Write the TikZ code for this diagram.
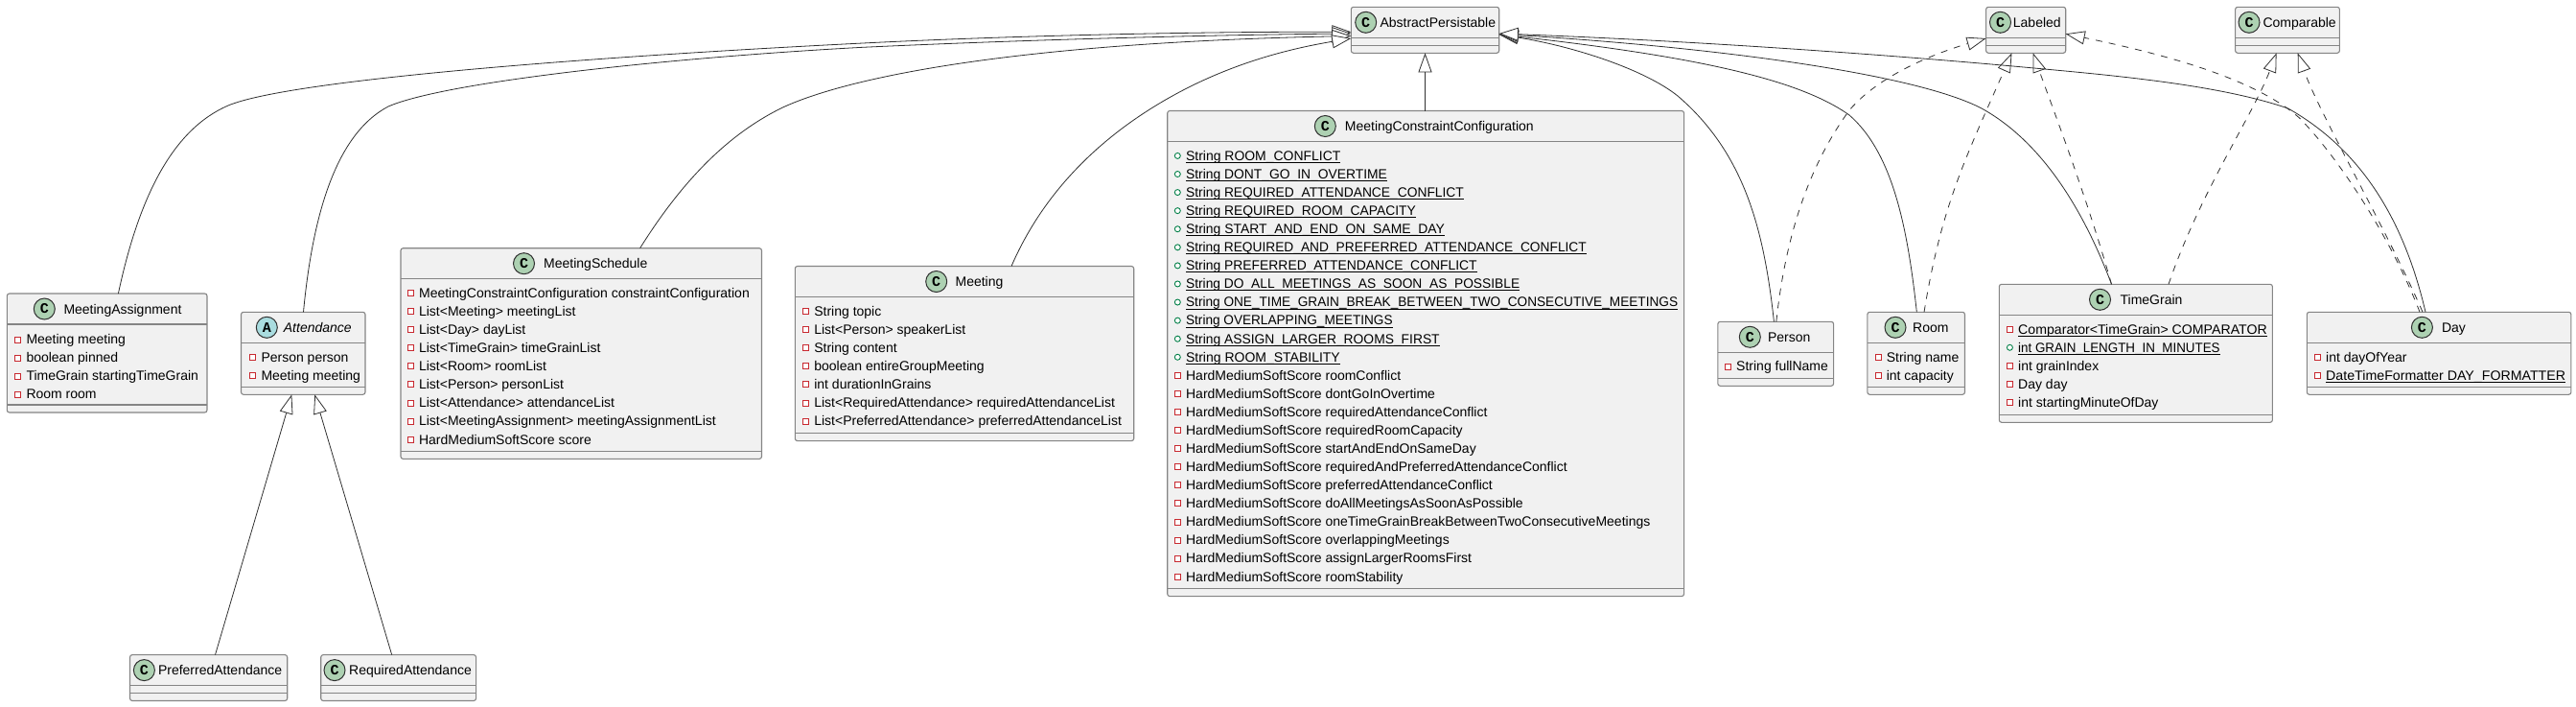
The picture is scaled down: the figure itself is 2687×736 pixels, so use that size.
\documentclass[tikz,border=0pt]{standalone}
\usepackage{fontspec}
\usepackage{graphicx}
\setmainfont{Liberation Sans}
\newfontfamily\iconfont{Liberation Mono}
\usetikzlibrary{arrows.meta}
\definecolor{boxfill}{HTML}{F1F1F1}
\definecolor{boxline}{HTML}{858585}
\definecolor{edgeline}{HTML}{303030}
\definecolor{classicon}{HTML}{ADD1B2}
\definecolor{abstracticon}{HTML}{A9DCDF}
\definecolor{privred}{HTML}{C82930}
\definecolor{pubgreen}{HTML}{038048}
\tikzset{
  classbox/.style={draw=boxline,fill=boxfill,line width=1.1pt,rounded corners=2.5pt,inner sep=0pt,outer sep=0pt},
  sepline/.style={draw=boxline,line width=1.1pt},
  iconcircle/.style={circle,draw=edgeline,line width=1pt,minimum size=22pt,inner sep=0pt,font=\iconfont\bfseries\fontsize{15}{15}\selectfont},
  labeltext/.style={anchor=base west,inner sep=0pt,font=\fontsize{14}{16}\selectfont,text=black},
  ext/.style={draw=edgeline,line width=.8pt,-{Triangle[length=20pt,width=14pt,fill=white,line width=.8pt]}},
  impl/.style={ext,dash pattern=on 7pt off 7pt},
}
\def\umlicon{C}\def\umlfill{classicon}
% name x0 y0 x1 y1 headerline attrline iconx textx
\newcommand{\umlbox}[9]{%
  \pgfmathsetmacro\bw{#4-#2}\pgfmathsetmacro\bh{#5-#3}%
  \pgfmathsetmacro\bx{(#2+#4)/2}\pgfmathsetmacro\by{(#3+#5)/2}%
  \node[classbox,minimum width=\bw pt,minimum height=\bh pt] (#1) at (\bx,\by) {};
  \draw[sepline] (#2,#6) -- (#4,#6);
  \draw[sepline] (#2,#7) -- (#4,#7);
  \pgfmathsetmacro\cy{#3+16}%
  \node[iconcircle,fill=\umlfill] (#1c) at (#8,\cy) {\umlicon};
  \pgfmathsetmacro\ty{#3+21}%
  \node[labeltext] (#1t) at (#9,\ty) {\umlname};
}
\newcommand{\iconp}[2]{\draw[privred,fill=white,line width=.9pt] ({#1-3},{#2-3}) rectangle ({#1+3},{#2+3});}
\newcommand{\icono}[2]{\draw[pubgreen,fill=white,line width=.9pt] (#1,#2) circle (3pt);}
% name textx firsty step list
\newcommand{\umlrows}[5]{%
  \foreach \k/\t [count=\i] in {#5}{%
    \pgfmathsetmacro\ry{#3+(\i-1)*#4}%
    \pgfmathsetmacro\ix{#2-8.6}%
    \csname icon\k\endcsname{\ix}{\ry}%
    \pgfmathsetmacro\rb{\ry+4.8}%
    \node[labeltext] (#1r\i) at (#2,\rb) {\t};
  }%
}
\newcommand{\ulw}[2]{\rlap{\rule[-2.7pt]{#1pt}{1pt}}\resizebox{#1pt}{\height}{#2}}
\begin{document}
\begin{tikzpicture}[x=1pt,y=-1pt]
\useasboundingbox (0,0) rectangle (2687,736);
\def\umlname{MeetingAssignment}\umlbox{ma}{7.3}{306}{216}{430}{338}{422}{46.3}{66.3}
\umlrows{ma}{27.3}{354}{19}{p/Meeting meeting,p/boolean pinned,p/TimeGrain startingTimeGrain,p/Room room}
\def\umlicon{A}\def\umlfill{abstracticon}
\def\umlname{\itshape Attendance}\umlbox{at}{251.5}{325.3}{381}{411.3}{357.3}{403.3}{278.3}{295.7}
\def\umlicon{C}\def\umlfill{classicon}
\umlrows{at}{272.3}{372.7}{19}{p/Person person,p/Meeting meeting}
\def\umlname{MeetingSchedule}\umlbox{ms}{418}{258.7}{794.5}{478.4}{290.6}{470.4}{546.5}{567}
\umlrows{ms}{436.9}{305.4}{19.1}{p/MeetingConstraintConfiguration constraintConfiguration,p/List<Meeting> meetingList,p/List<Day> dayList,p/List<TimeGrain> timeGrainList,p/List<Room> roomList,p/List<Person> personList,p/List<Attendance> attendanceList,p/List<MeetingAssignment> meetingAssignmentList,p/HardMediumSoftScore score}
\def\umlname{Meeting}\umlbox{me}{829.3}{277.5}{1182.7}{459.6}{309.4}{451.4}{976.7}{996.4}
\umlrows{me}{849.1}{324.5}{19.1}{p/String topic,p/List<Person> speakerList,p/String content,p/boolean entireGroupMeeting,p/int durationInGrains,p/List<RequiredAttendance> requiredAttendanceList,p/List<PreferredAttendance> preferredAttendanceList}
\def\umlname{MeetingConstraintConfiguration}\umlbox{mc}{1217.7}{115.5}{1756.6}{621.6}{147.3}{613.5}{1382.3}{1402.7}
\umlrows{mc}{1236.9}{162.4}{19.08}{o/\ulw{161.3}{String ROOM\_CONFLICT},o/\ulw{209.8}{String DONT\_GO\_IN\_OVERTIME},o/\ulw{289.8}{String REQUIRED\_ATTENDANCE\_CONFLICT},o/\ulw{239.8}{String REQUIRED\_ROOM\_CAPACITY},o/\ulw{269.8}{String START\_AND\_END\_ON\_SAME\_DAY},o/\ulw{417.7}{String REQUIRED\_AND\_PREFERRED\_ATTENDANCE\_CONFLICT},o/\ulw{303.5}{String PREFERRED\_ATTENDANCE\_CONFLICT},o/\ulw{348.1}{String DO\_ALL\_MEETINGS\_AS\_SOON\_AS\_POSSIBLE},o/\ulw{513}{String ONE\_TIME\_GRAIN\_BREAK\_BETWEEN\_TWO\_CONSECUTIVE\_MEETINGS},o/\ulw{215.5}{String OVERLAPPING\_MEETINGS},o/\ulw{264.6}{String ASSIGN\_LARGER\_ROOMS\_FIRST},o/\ulw{160.7}{String ROOM\_STABILITY},p/HardMediumSoftScore roomConflict,p/HardMediumSoftScore dontGoInOvertime,p/HardMediumSoftScore requiredAttendanceConflict,p/HardMediumSoftScore requiredRoomCapacity,p/HardMediumSoftScore startAndEndOnSameDay,p/HardMediumSoftScore requiredAndPreferredAttendanceConflict,p/HardMediumSoftScore preferredAttendanceConflict,p/HardMediumSoftScore doAllMeetingsAsSoonAsPossible,p/HardMediumSoftScore oneTimeGrainBreakBetweenTwoConsecutiveMeetings,p/HardMediumSoftScore overlappingMeetings,p/HardMediumSoftScore assignLargerRoomsFirst,p/HardMediumSoftScore roomStability}
\def\umlname{AbstractPersistable}\umlbox{ap}{1409.3}{7.3}{1563.7}{55.3}{39.3}{47.3}{1424.7}{1439.3}
\def\umlname{Labeled}\umlbox{la}{2071.6}{7.3}{2154.7}{55.3}{39.3}{47.3}{2086.5}{2099.7}
\def\umlname{Comparable}\umlbox{co}{2331.6}{7.3}{2440.4}{55.3}{39.3}{47.3}{2346}{2360.3}
\def\umlname{Person}\umlbox{pe}{1791.8}{335.3}{1912.6}{402.3}{367.3}{394.3}{1825.3}{1843.8}
\umlrows{pe}{1811}{382}{19}{p/String fullName}
\def\umlname{Room}\umlbox{ro}{1947.8}{325.3}{2049.5}{411.3}{357.3}{403.3}{1977}{1995}
\umlrows{ro}{1967.6}{372.7}{19}{p/String name,p/int capacity}
\def\umlname{TimeGrain}\umlbox{tg}{2085.3}{296.3}{2370.4}{440.3}{328.3}{432.3}{2190.5}{2211.4}
\umlrows{tg}{2105}{343.3}{19}{p/\ulw{259.5}{Comparator<TimeGrain> COMPARATOR},o/\ulw{210.4}{int GRAIN\_LENGTH\_IN\_MINUTES},p/int grainIndex,p/Day day,p/int startingMinuteOfDay}
\def\umlname{Day}\umlbox{da}{2406.3}{325.3}{2681.9}{411.3}{357.3}{403.3}{2526.4}{2546.8}
\umlrows{da}{2426}{372.7}{19}{p/int dayOfYear,p/\ulw{249.9}{DateTimeFormatter DAY\_FORMATTER}}
\def\umlname{PreferredAttendance}\umlbox{pa}{135.5}{682.6}{299.7}{730.5}{714.5}{722.5}{150.4}{164.8}
\def\umlname{RequiredAttendance}\umlbox{ra}{334.7}{682.6}{496.6}{730.5}{714.5}{722.5}{349}{364}
% realisation
\draw[impl] (1852.8,0 |- pe.north) .. controls (1862,250) and (1885,175) .. (1929,115) .. controls (1960,78) and (2020,55) .. (la.west |- 0,40);
\draw[impl] (2007,0 |- ro.north) .. controls (2025,215) and (2050,165) .. (2098.5,0 |- la.south);
\draw[impl] (2202.5,0 |- tg.north) .. controls (2175,200) and (2140,110) .. (2120.6,0 |- la.south);
\draw[impl] (2524,0 |- da.north) .. controls (2495,250) and (2440,165) .. (2398.5,123) .. controls (2350,80) and (2250,55) .. (la.east |- 0,35.3);
\draw[impl] (2262,0 |- tg.north) .. controls (2295,200) and (2350,120) .. (2374.6,0 |- co.south);
\draw[impl] (2527,0 |- da.north) .. controls (2490,240) and (2420,120) .. (2396.7,0 |- co.south);
% inheritance
\draw[ext] (224.5,0 |- pa.north) -- (304.3,0 |- at.south);
\draw[ext] (408.7,0 |- ra.north) -- (328.3,0 |- at.south);
\draw[ext] (123.4,0 |- ma.north) .. controls (145,205) and (180,135) .. (238,110) .. controls (300,84) and (600,60) .. (900,45) .. controls (1100,35) and (1300,33) .. (ap.west |- 0,33.3);
\draw[ext] (316.5,0 |- at.north) .. controls (326,225) and (350,140) .. (405,111) .. controls (465,85) and (700,60) .. (900,49.3) .. controls (1100,40) and (1300,36) .. (ap.west |- 0,35);
\draw[ext] (667.6,0 |- ms.north) .. controls (720,175) and (770,135) .. (815,112.7) .. controls (880,82) and (1050,45) .. (ap.west |- 0,37.5);
\draw[ext] (1055,0 |- me.north) .. controls (1095,185) and (1170,125) .. (1246,88) .. controls (1300,62) and (1350,50) .. (ap.west |- 0,40);
\draw[ext] (1486.5,0 |- mc.north) -- (1486.5,0 |- ap.south);
\draw[ext] (1850.4,0 |- pe.north) .. controls (1840,240) and (1820,160) .. (1750,100) .. controls (1715,72) and (1640,48) .. (ap.east |- 0,36);
\draw[ext] (1999.3,0 |- ro.north) .. controls (1990,240) and (1975,160) .. (1929,120) .. controls (1880,85) and (1780,60) .. (ap.east |- 0,36);
\draw[ext] (2202.5,0 |- tg.north) .. controls (2170,210) and (2125,145) .. (2067,113) .. controls (2000,78) and (1800,50) .. (ap.east |- 0,35.5);
\draw[ext] (2530,0 |- da.north) .. controls (2510,240) and (2470,160) .. (2386.6,113) .. controls (2320,90) and (2220,80) .. (2132.5,72) .. controls (1950,55) and (1750,42) .. (ap.east |- 0,35);
\end{tikzpicture}
\end{document}
